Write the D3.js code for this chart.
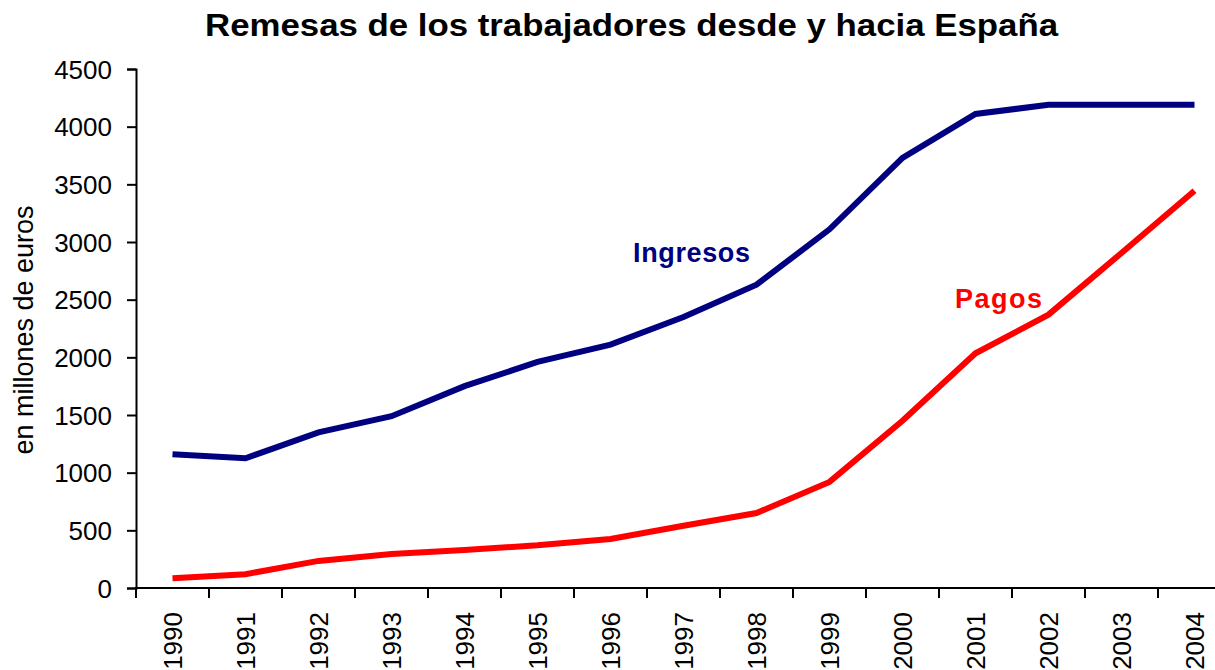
<!DOCTYPE html>
<html>
<head>
<meta charset="utf-8">
<script src="https://cdn.jsdelivr.net/npm/d3@7"></script>
<style>
  body { margin: 0; background: #fff; }
  svg { display: block; }
  svg text { font-family: "Liberation Sans", Arial, sans-serif; }
</style>
</head>
<body>
<script>
const years = ['1990', '1991', '1992', '1993', '1994', '1995', '1996', '1997',
    '1998', '1999', '2000', '2001', '2002', '2003', '2004'];
const ingresos = [1160, 1125, 1350, 1490, 1750, 1960, 2110, 2350, 2630, 3110, 3730, 4110, 4190, 4190, 4190];
const pagos = [85, 120, 235, 295, 330, 370, 425, 540, 650, 920, 1450, 2035, 2370, 2905, 3445];
const yTicks = [0, 500, 1000, 1500, 2000, 2500, 3000, 3500, 4000, 4500];

const width = 1215, height = 670;

let svg = d3.select('body').append('svg')
    .attr('width', width)
    .attr('height', height);

// the plot runs past the right edge, as in the original picture
let x = d3.scaleBand()
    .domain(years)
    .range([136, 136 + 73 * years.length]);

let y = d3.scaleLinear()
    .domain([0, 4500])
    .range([588, 69]);

svg.append('text')
    .attr('x', 205)
    .attr('y', 36)
    .attr('font-size', 32)
    .attr('font-weight', 'bold')
    .attr('textLength', 853)
    .attr('lengthAdjust', 'spacingAndGlyphs')
    .text('Remesas de los trabajadores desde y hacia España');

// y axis
let yAxis = svg.append('g')
    .attr('transform', 'translate(136,0)')
    .call(d3.axisLeft(y).tickValues(yTicks).tickFormat(d3.format('d')).tickSize(9).tickPadding(15));
yAxis.selectAll('text')
    .attr('font-size', 26)
    .attr('fill', '#000')
    .attr('dy', '0.35em');
yAxis.select('.domain').attr('stroke-width', 2);
yAxis.selectAll('.tick line').attr('stroke-width', 2);

// x axis, ticks on the band edges
let xAxis = svg.append('g')
    .attr('transform', 'translate(0,588)');
xAxis.append('line')
    .attr('x1', 135).attr('x2', x.range()[1])
    .attr('stroke', '#000').attr('stroke-width', 2);
xAxis.selectAll('line.tick')
    .data(years)
    .enter()
    .append('line')
    .attr('class', 'tick')
    .attr('x1', (d) => x(d)).attr('x2', (d) => x(d))
    .attr('y1', 0).attr('y2', 10)
    .attr('stroke', '#000').attr('stroke-width', 2);
xAxis.selectAll('text')
    .data(years)
    .enter()
    .append('text')
    .attr('transform', (d) => 'translate(' + (x(d) + x.bandwidth() / 2) + ',24) rotate(-90)')
    .attr('text-anchor', 'end')
    .attr('dy', '0.35em')
    .attr('font-size', 26)
    .text((d) => d);

svg.append('text')
    .attr('transform', 'translate(33,330) rotate(-90)')
    .attr('text-anchor', 'middle')
    .attr('font-size', 27)
    .text('en millones de euros');

let line = d3.line()
    .x((d, i) => x(years[i]) + x.bandwidth() / 2)
    .y((d) => y(d));

svg.append('path')
    .datum(ingresos)
    .attr('d', line)
    .attr('fill', 'none')
    .attr('stroke', '#000080')
    .attr('stroke-width', 6);

svg.append('path')
    .datum(pagos)
    .attr('d', line)
    .attr('fill', 'none')
    .attr('stroke', '#ff0000')
    .attr('stroke-width', 6);

svg.append('text')
    .attr('x', 633).attr('y', 262)
    .attr('font-size', 27).attr('font-weight', 'bold')
    .attr('fill', '#000080')
    .attr('textLength', 117)
    .text('Ingresos');

svg.append('text')
    .attr('x', 955).attr('y', 308)
    .attr('font-size', 27).attr('font-weight', 'bold')
    .attr('fill', '#ff0000')
    .attr('textLength', 87)
    .text('Pagos');
</script>
</body>
</html>
